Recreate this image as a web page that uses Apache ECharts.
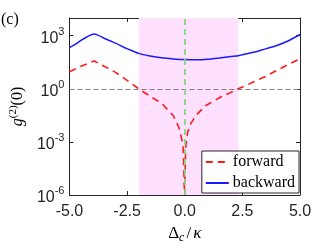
<!DOCTYPE html>
<html>
<head>
<meta charset="utf-8">
<script src="https://cdn.jsdelivr.net/npm/echarts@6/dist/echarts.min.js"></script>
<style>html,body{margin:0;padding:0;background:#fff}#c{width:332px;height:249px}</style>
</head>
<body>
<div id="c"></div>
<script>
// Detuning Δc/κ
var backwardX = [-5.0, -4.75, -4.5, -4.25, -3.93, -3.75, -3.5, -3.25, -3.0, -2.63, -2.5, -2.0, -1.5, -1.0, -0.5, 0.0, 0.5, 1.0, 1.5, 2.0, 2.32, 2.5, 3.0, 3.5, 4.0, 4.5, 5.0];
var backwardY = [2.1e2, 3.2e2, 5.5e2, 8.5e2, 1.25e3, 1.05e3, 7.2e2, 5.2e2, 3.8e2, 2.15e2, 1.85e2, 1.0e2, 7.1e1, 5.6e1, 4.9e1, 4.5e1, 4.4e1, 4.7e1, 5.5e1, 6.6e1, 7.4e1, 8.5e1, 1.15e2, 1.8e2, 2.8e2, 5.2e2, 1.17e3];
var forwardX = [-5.0, -4.5, -3.93, -3.5, -3.0, -2.5, -2.0, -1.5, -1.0, -0.5, -0.25, -0.08, -0.05, -0.02, 0.0, 0.02, 0.04, 0.13, 0.25, 0.48, 0.9, 1.5, 2.0, 2.32, 2.5, 3.0, 3.5, 4.0, 4.5, 5.0];
var forwardY = [9.1, 1.9e1, 3.7e1, 1.9e1, 8.5, 3.0, 1.0, 3.8e-1, 1.5e-1, 3.1e-2, 6.3e-3, 7.5e-4, 1.0e-4, 3.0e-6, 1.0e-6, 3.0e-5, 5.0e-4, 3.7e-3, 1.0e-2, 3.1e-2, 1.1e-1, 3.1e-1, 6.3e-1, 1.0, 1.25, 2.5, 5.0, 1.1e1, 2.4e1, 4.9e1];
var xTicks = [-5.0, -2.5, 0.0, 2.5, 5.0];
var yTickExponents = [-6, -3, 0, 3];
var shadeRange = [-1.99, 2.32];
var refLineY = 1;
var refLineX = 0;

function pairs(xs, ys) { return xs.map(function (x, i) { return [x, ys[i]]; }); }

var axisColor = '#262626';
var labelFont = 'Liberation Sans, Arial, Helvetica, sans-serif';
var serif = 'Liberation Serif, Times New Roman, serif';

var chart = echarts.init(document.getElementById('c'), null, {renderer: 'canvas'});
var xBase = {
  type: 'value', min: xTicks[0], max: xTicks[xTicks.length - 1], interval: 2.5,
  axisLine: {show: true, onZero: false, lineStyle: {color: axisColor, width: 1}},
  axisTick: {show: true, inside: true, length: 4, lineStyle: {color: axisColor}},
  splitLine: {show: false}
};
var yBase = {
  type: 'log', logBase: 10, min: Math.pow(10, yTickExponents[0]), max: 1e4, interval: 3,
  axisLine: {show: true, onZero: false, lineStyle: {color: axisColor, width: 1}},
  axisTick: {show: true, inside: true, length: 4, lineStyle: {color: axisColor}},
  splitLine: {show: false}, minorTick: {show: false}
};

chart.setOption({
  animation: false,
  grid: {left: 64, right: 32, top: 18, bottom: 49, containLabel: false},
  graphic: [{
    type: 'text', left: 1, top: 12,
    style: {text: '(c)', font: '16px ' + serif, fill: '#000'}
  }],
  xAxis: [
    Object.assign({}, xBase, {
      position: 'bottom',
      axisLabel: {show: true, margin: 9, fontSize: 16, fontFamily: labelFont, color: axisColor,
        formatter: function (v) { return v.toFixed(1); }},
      name: '{d|Δ}{c|c}{s|/}{k|κ}', nameLocation: 'middle', nameGap: 29,
      nameTextStyle: {
        rich: {
          d: {fontSize: 17, fontFamily: serif, color: '#000'},
          c: {fontSize: 12, fontFamily: serif, fontStyle: 'italic', color: '#000', padding: [8, 2, 0, 0]},
          s: {fontSize: 17, fontFamily: serif, color: '#000', padding: [0, 2, 0, 0]},
          k: {fontSize: 17, fontFamily: serif, fontStyle: 'italic', color: '#000'}
        }
      }
    }),
    Object.assign({}, xBase, {position: 'top', axisLabel: {show: false}})
  ],
  yAxis: [
    Object.assign({}, yBase, {
      position: 'left',
      axisLabel: {show: true, margin: 5, fontFamily: labelFont, color: axisColor,
        formatter: function (v) {
          var e = Math.round(Math.log(v) / Math.LN10);
          if (yTickExponents.indexOf(e) < 0) return '';
          return '{b|10}{s|' + e + '}';
        },
        rich: {
          b: {fontSize: 16, fontFamily: labelFont, color: axisColor, padding: [6, 0, 0, 0]},
          s: {fontSize: 11, fontFamily: labelFont, color: axisColor, padding: [0, 0, 8, 0]}
        }
      },
      name: '{g|g}{s|(2)}{n|(0)}', nameLocation: 'middle', nameRotate: 90, nameGap: 35,
      nameTextStyle: {
        rich: {
          g: {fontSize: 16, fontFamily: serif, fontStyle: 'italic', color: '#000'},
          s: {fontSize: 11, fontFamily: serif, color: '#000', padding: [0, 0, 9, 0]},
          n: {fontSize: 16, fontFamily: serif, color: '#000'}
        }
      }
    }),
    Object.assign({}, yBase, {position: 'right', axisLabel: {show: false}})
  ],
  legend: {
    show: true, orient: 'vertical', right: 33, bottom: 56,
    data: ['forward', 'backward'],
    backgroundColor: '#fff', borderColor: axisColor, borderWidth: 1, borderRadius: 0,
    padding: [3, 4, 2, 3], itemWidth: 23, itemHeight: 14, itemGap: 5,
    itemStyle: {opacity: 0, borderWidth: 0},
    textStyle: {fontSize: 16, fontFamily: serif, color: '#000', padding: [0, 0, 0, -1]}
  },
  series: [
    {
      name: 'shade', type: 'line', data: [], z: 1, silent: true,
      markArea: {silent: true, itemStyle: {color: '#ffe0fe'},
        data: [[{xAxis: shadeRange[0]}, {xAxis: shadeRange[1]}]]}
    },
    {
      name: 'backward', type: 'line', data: pairs(backwardX, backwardY), z: 3,
      symbol: 'none', smooth: 0.3, clip: true,
      lineStyle: {color: '#1a1aff', width: 1.5, type: 'solid'},
      itemStyle: {color: '#1a1aff'}
    },
    {
      name: 'forward', type: 'line', data: pairs(forwardX, forwardY), z: 3,
      symbol: 'none', smooth: false, clip: true,
      lineStyle: {color: '#ff1a1a', width: 1.6, type: [7, 5]},
      itemStyle: {color: '#ff1a1a'}
    },
    {
      name: 'refs', type: 'line', data: [], z: 4, silent: true,
      markLine: {
        silent: true, symbol: 'none', label: {show: false},
        data: [
          {yAxis: refLineY, lineStyle: {color: '#808080', width: 1, type: [5, 3]}},
          {xAxis: refLineX, lineStyle: {color: '#7fd97f', width: 1.8, type: [6, 4]}}
        ]
      }
    }
  ]
});
</script>
</body>
</html>
